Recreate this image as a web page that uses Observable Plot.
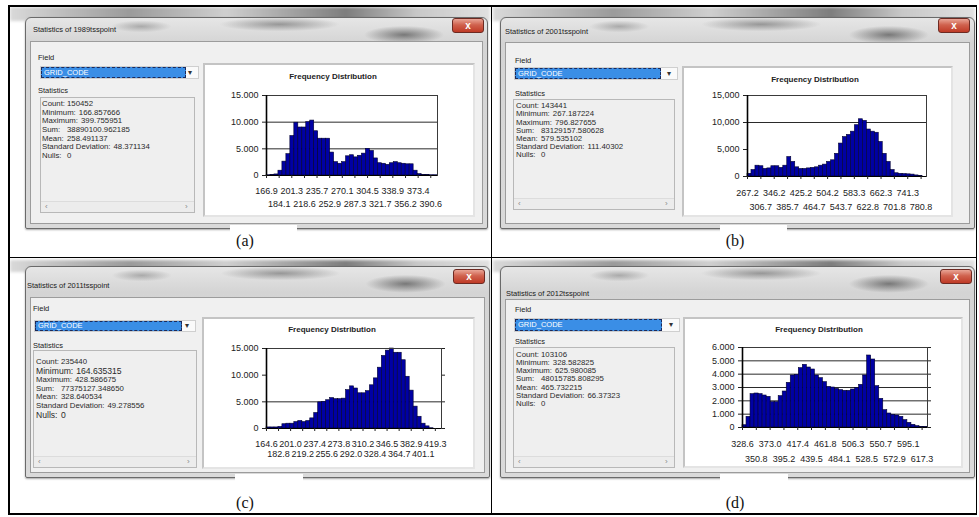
<!DOCTYPE html>
<html><head><meta charset="utf-8">
<script src="https://cdn.jsdelivr.net/npm/d3@7"></script>
<script src="https://cdn.jsdelivr.net/npm/@observablehq/plot@0.6"></script>
<style>
html,body{margin:0;padding:0;background:#fff;}
body{width:979px;height:517px;position:relative;overflow:hidden;font-family:"Liberation Sans",Arial,sans-serif;color:#222;}
.a{position:absolute;box-sizing:border-box;white-space:nowrap;}
</style></head><body>
<script>
// ---------------- data ----------------
const dialogTitles = ["Statistics of 1989tsspoint","Statistics of 2001tsspoint","Statistics of 2011tsspoint","Statistics of 2012tsspoint"];
const captions = ["(a)","(b)","(c)","(d)"];
const fieldLabel = "Field";
const fieldName = "GRID_CODE";
const statsLabel = "Statistics";
const chartTitle = "Frequency Distribution";
const statNames = ["Count:","Minimum:","Maximum:","Sum:","Mean:","Standard Deviation:","Nulls:"];

const statsA = ["150452","166.857666","399.755951","38890100.962185","258.491137","48.371134","0"];
const statsB = ["143441","267.187224","796.827655","83129157.580628","579.535102","111.40302","0"];
const statsC = ["235440","164.635315","428.586675","77375127.348650","328.640534","49.278556","0"];
const statsD = ["103106","328.582825","625.980085","48015785.808295","465.732215","66.37323","0"];

const rangeA = [166.857666, 399.755951];
const rangeB = [267.187224, 796.827655];
const rangeC = [164.635315, 428.586675];
const rangeD = [328.582825, 625.980085];

const countsA = [50,100,200,900,2600,4000,7400,9900,9000,9000,10000,10300,8300,6900,6900,6900,4300,2500,2200,2500,3600,3800,3400,3700,4100,5000,4600,3200,2300,2200,2000,2300,2500,2300,2200,2100,2100,900,250,100,100,50,50];
const countsB = [500,1200,2000,1900,1400,1500,1900,1900,1600,2000,3600,2700,1700,1400,1400,1500,1600,1700,2000,2200,2700,3000,4200,6100,7300,7700,8300,9500,10600,10300,8700,8300,8100,6400,4200,2700,1200,600,500,450,400,350,200,100,0];
const countsC = [200,200,200,300,800,900,900,1200,1400,1200,1400,1900,2900,4900,5000,5300,5700,5500,5500,5600,7200,7900,7500,6600,6600,7000,8100,9400,11400,13600,14600,15000,14200,14200,12800,9700,7100,4100,2200,900,400,50,0,0];
const countsD = [170,800,2500,2550,2500,2400,2300,1900,1900,2350,2700,3350,3900,3950,4450,4700,4500,4350,3900,3700,3400,3050,3000,2900,2800,2750,2750,2850,2950,3200,3900,5400,5100,3100,2150,1300,1050,950,900,800,550,350,200,100,50,30];

const xLabelsA1 = ["166.9","201.3","235.7","270.1","304.5","338.9","373.4"];
const xLabelsA2 = ["184.1","218.6","252.9","287.3","321.7","356.2","390.6"];
const xLabelsB1 = ["267.2","346.2","425.2","504.2","583.3","662.3","741.3"];
const xLabelsB2 = ["306.7","385.7","464.7","543.7","622.8","701.8","780.8"];
const xLabelsC1 = ["164.6","201.0","237.4","273.8","310.2","346.5","382.9","419.3"];
const xLabelsC2 = ["182.8","219.2","255.6","292.0","328.4","364.7","401.1"];
const xLabelsD1 = ["328.6","373.0","417.4","461.8","506.3","550.7","595.1"];
const xLabelsD2 = ["350.8","395.2","439.5","484.1","528.5","572.9","617.3"];

const yLabelsA = ["0","5.000","10.000","15.000"];
const yLabelsB = ["0","5,000","10,000","15,000"];
const yLabelsC = ["0","5.000","10.000","15.000"];
const yLabelsD = ["0","1.000","2.000","3.000","4.000","5.000","6.000"];

const gridA = [5000,10000];
const gridB = [10000];
const gridC = [5000];
const gridD = [1000,2000,3000,4000,5000];

// ---------------- layout ----------------
const panels = [
 {stats:statsA, range:rangeA, counts:countsA, x1:xLabelsA1, x2:xLabelsA2, yl:yLabelsA, grid:gridA, rightTicks:false},
 {stats:statsB, range:rangeB, counts:countsB, x1:xLabelsB1, x2:xLabelsB2, yl:yLabelsB, grid:gridB, rightTicks:false},
 {stats:statsC, range:rangeC, counts:countsC, x1:xLabelsC1, x2:xLabelsC2, yl:yLabelsC, grid:gridC, rightTicks:true},
 {stats:statsD, range:rangeD, counts:countsD, x1:xLabelsD1, x2:xLabelsD2, yl:yLabelsD, grid:gridD, rightTicks:true},
];
const G = [
 { dlg:{x:25,y:17,w:463,h:212}, close:{x:452,y:18}, titleXY:[33,29], clientTop:41,
   field:[38,57], dd:{x:41,y:67,w:145,h:11}, arrowX:191, statLbl:[38,90],
   statBox:{x:40,y:97,w:155,h:116}, statY:104, statStep:8.6, statX:42, big:[],
   panel:{x:203,y:63,w:272,h:154}, frame:{x:266,y:95,w:171,h:80}, chartTitle:[333,77],
   rows:[15,28], caption:[245,241], gap:[230,225,67,8], band:[10,7,480,10] },
 { dlg:{x:500,y:17,w:475,h:212}, close:{x:938,y:18}, titleXY:[505,31], clientTop:42,
   field:[515,60], dd:{x:515,y:68,w:146,h:11}, arrowX:670, statLbl:[515,93],
   statBox:{x:513,y:99,w:162,h:111}, statY:106, statStep:8.2, statX:516, big:[],
   panel:{x:682,y:66,w:271,h:151}, frame:{x:747,y:95,w:179,h:81}, chartTitle:[815,80],
   rows:[16,30], caption:[735,241], gap:[720,225,67,8], band:[493,7,482,10] },
 { dlg:{x:25,y:266,w:465,h:212}, close:{x:453,y:269}, titleXY:[27,285], clientTop:297,
   field:[33,308], dd:{x:35,y:321,w:147,h:10}, arrowX:188, statLbl:[33,345],
   statBox:{x:33,y:350,w:164,h:118}, statY:362, statStep:8.8, statX:36, big:[1,6],
   panel:{x:202,y:317,w:273,h:152}, frame:{x:266,y:348,w:175,h:80}, chartTitle:[332,330],
   rows:[15,25], caption:[245,503], gap:[235,474,68,8], band:[10,260,480,8] },
 { dlg:{x:500,y:266,w:475,h:212}, close:{x:940,y:269}, titleXY:[506,293], clientTop:299,
   field:[515,309], dd:{x:515,y:319,w:147,h:12}, arrowX:672, statLbl:[515,341],
   statBox:{x:513,y:347,w:162,h:121}, statY:355, statStep:8.1, statX:516, big:[],
   panel:{x:683,y:317,w:280,h:151}, frame:{x:742,y:347,w:185,h:80}, chartTitle:[819,330],
   rows:[16,31], caption:[735,503], gap:[720,474,68,8], band:[493,260,482,8] },
];

const body = document.body;
function box(x, y, w, h, css) {
  const d = document.createElement("div");
  d.className = "a";
  d.style.cssText += `left:${x}px;top:${y}px;width:${w}px;height:${h}px;` + (css || "");
  body.appendChild(d);
  return d;
}
function txt(x, y, s, fs, css, lh) {
  const L = lh || fs * 1.2;
  const d = document.createElement("div");
  d.className = "a";
  d.style.cssText += `left:${x}px;top:${y - L / 2}px;font-size:${fs}px;line-height:${L}px;` + (css || "");
  d.textContent = s;
  body.appendChild(d);
  return d;
}

function chart(p, g) {
  const [lo, hi] = p.range;
  const n = p.counts.length, bw = (hi - lo) / n;
  const bins = p.counts.map((c, i) => ({x1: lo + i * bw, x2: lo + (i + 1) * bw, c}));
  const yT = p.yl.map(s => +s.replace(/[.,]/g, ""));
  const yMax = Math.max(...yT);
  const lab = new Map(p.yl.map((s, i) => [yT[i], s]));
  const r1 = p.x1.map(Number), r2 = p.x2.map(Number);
  const mL = 48, mT = 8, mR = 14, mB = 42;
  const marks = [
    Plot.gridY(p.grid, {stroke: "#2a2a2a", strokeOpacity: 1, strokeWidth: 1}),
    Plot.rectY(bins, {x1: "x1", x2: "x2", y: "c", fill: "#0000a4", stroke: "#00002e", strokeWidth: 0.6}),
    Plot.frame({stroke: "#3a3a3a", strokeWidth: 1}),
    Plot.ruleX([lo], {stroke: "#000", strokeWidth: 1.6}),
    Plot.ruleY([0], {stroke: "#000", strokeWidth: 1.2}),
    Plot.axisY(yT, {anchor: "left", tickFormat: d => lab.get(d), tickSize: 4, tickPadding: 4, label: null}),
    Plot.axisX(r1, {anchor: "bottom", tickFormat: d => d.toFixed(1), tickSize: 3, tickPadding: g.rows[0] - 6, label: null}),
    Plot.axisX(r2, {anchor: "bottom", tickFormat: d => d.toFixed(1), tickSize: 3, tickPadding: g.rows[1] - 6, label: null}),
  ];
  if (p.rightTicks) marks.push(Plot.axisY(yT, {anchor: "right", tickFormat: () => "", tickSize: 3, label: null}));
  const svg = Plot.plot({
    width: g.frame.w + mL + mR, height: g.frame.h + mT + mB,
    marginLeft: mL, marginTop: mT, marginRight: mR, marginBottom: mB,
    x: {domain: [lo, hi]}, y: {domain: [0, yMax]},
    style: {background: "transparent", fontFamily: "'Liberation Sans', Arial, sans-serif", fontSize: "9px", color: "#222", overflow: "visible"},
    marks
  });
  const wrap = box(g.frame.x - mL, g.frame.y - mT, g.frame.w + mL + mR, g.frame.h + mT + mB, "");
  wrap.appendChild(svg);
}

panels.forEach((p, k) => {
  const g = G[k];
  box(g.band[0], g.band[1], g.band[2], g.band[3] + 4,
    "background:linear-gradient(90deg,#d9d9d9 0%,#9a9a9a 25%,#cfcfcf 45%,#7d7d7d 70%,#c8c8c8 85%,#e0e0e0 100%);filter:blur(1.5px);");
  const d = g.dlg;
  box(d.x, d.y, d.w, d.h,
    "border:1px solid #6a6a6a;border-radius:6px 6px 2px 2px;" +
    "background:radial-gradient(ellipse 40px 9px at 82% 8%,rgba(40,40,40,.55),transparent)," +
    "radial-gradient(ellipse 60px 7px at 55% 3%,rgba(60,60,60,.45),transparent)," +
    "radial-gradient(ellipse 30px 6px at 25% 4%,rgba(70,70,70,.35),transparent)," +
    "linear-gradient(#e6e6e6,#d4d4d4 12%,#dadada);box-shadow:0 1px 2px rgba(0,0,0,.35);");
  box(d.x + 5, g.clientTop, d.w - 10, d.y + d.h - 5 - g.clientTop,
    "background:#f0f0f0;border:1px solid #9c9c9c;");
  txt(g.titleXY[0], g.titleXY[1], dialogTitles[k], 7.5, "color:#1a1a1a;");
  const cb = box(g.close.x, g.close.y, 32, 15,
    "border:1px solid #6d2a22;border-radius:3px;background:linear-gradient(#e9a596,#d0624e 45%,#bf3a26);" +
    "color:#fff;font-weight:bold;font-size:10px;line-height:13px;text-align:center;");
  cb.textContent = "x";
  txt(g.field[0], g.field[1], fieldLabel, 7.5);
  const dd = g.dd;
  box(dd.x - 1, dd.y - 1, g.arrowX + 8 - dd.x + 1, dd.h + 2, "background:#fafafa;border:1px solid #cfcfcf;");
  const sel = box(dd.x, dd.y, dd.w, dd.h,
    "background:#3a8ee6;border:1px dashed #1b2a5a;color:#fff;font-size:7.5px;padding-left:2px;line-height:" + (dd.h - 2) + "px;");
  sel.textContent = fieldName;
  txt(g.arrowX - 3, dd.y + dd.h / 2, "\u25BE", 8, "color:#333;");
  txt(g.statLbl[0], g.statLbl[1], statsLabel, 7.5);
  const sb = g.statBox;
  box(sb.x, sb.y, sb.w, sb.h, "background:#efefef;border:1px solid #b8b8b8;");
  box(sb.x + 1, sb.y + sb.h - 12, sb.w - 2, 11, "background:#ececec;border-top:1px solid #dcdcdc;");
  txt(sb.x + 5, sb.y + sb.h - 6, "\u2039", 8, "color:#888;");
  txt(sb.x + sb.w - 10, sb.y + sb.h - 6, "\u203A", 8, "color:#888;");
  statNames.forEach((nm, i) => {
    const fs = g.big.includes(i) ? 8.6 : 7.8;
    const row = txt(g.statX, g.statY + i * g.statStep, "", fs, "color:#2a2a2a;", fs);
    const l = document.createElement("span");
    l.textContent = nm;
    l.style.cssText = "display:inline-block;" + (nm.length <= 6 ? "min-width:25px;" : "margin-right:3px;");
    const v = document.createElement("span");
    v.textContent = p.stats[i];
    row.appendChild(l); row.appendChild(v);
  });
  const pn = g.panel;
  box(pn.x, pn.y, pn.w, pn.h, "background:#fff;border:2px solid #c4c4c4;border-right-color:#e4e4e4;border-bottom-color:#e4e4e4;");
  txt(g.chartTitle[0] - 60, g.chartTitle[1], chartTitle, 8, "width:120px;text-align:center;font-weight:bold;color:#222;");
  chart(p, g);
  box(g.gap[0], g.gap[1], g.gap[2], g.gap[3], "background:#fff;");
  txt(g.caption[0] - 20, g.caption[1], captions[k], 16, "width:40px;text-align:center;font-family:'Liberation Serif','Times New Roman',serif;color:#111;");
});

// table borders
box(8, 5, 969, 1.5, "background:#000;");
box(8, 513, 969, 1.5, "background:#000;");
box(8, 257, 969, 1.2, "background:#000;");
box(8, 5, 1.5, 510, "background:#000;");
box(975.5, 5, 1.5, 510, "background:#000;");
box(490.5, 5, 1.5, 510, "background:#000;");
</script>
</body></html>
